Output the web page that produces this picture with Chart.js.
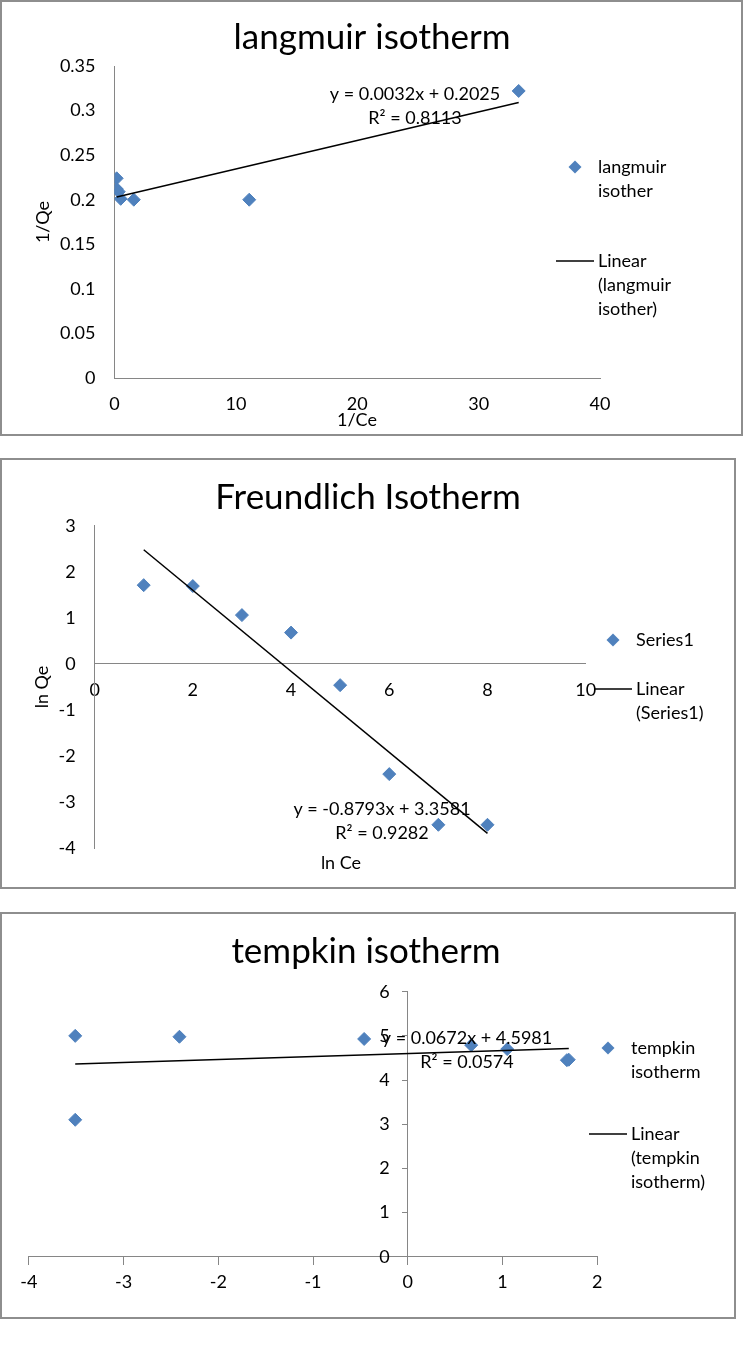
<!DOCTYPE html>
<html>
<head>
<meta charset="utf-8">
<title>Isotherms</title>
<script src="https://cdn.jsdelivr.net/npm/chart.js@4.4.1/dist/chart.umd.min.js"></script>
<style>
  body { margin: 0; background: #fff; width: 744px; height: 1370px; position: relative; }
  .box { position: absolute; border: 2px solid #8e8e8e; box-sizing: border-box; background: #fff; }
  .box canvas { position: absolute; left: 0; top: 0; }
</style>
</head>
<body>
<div class="box" style="left:0;top:0;width:743px;height:436px"><canvas id="langmuirChart" width="739" height="432"></canvas></div>
<div class="box" style="left:0;top:458px;width:736px;height:431px"><canvas id="freundlichChart" width="732" height="427"></canvas></div>
<div class="box" style="left:0;top:912px;width:736px;height:407px"><canvas id="tempkinChart" width="732" height="403"></canvas></div>
<script>
// langmuir: 1/Ce vs 1/Qe
const langmuirX = [0.18, 0.19, 0.35, 0.51, 1.59, 11.1, 33.3];
const langmuirY = [0.224, 0.212, 0.209, 0.201, 0.200, 0.200, 0.322];
const langmuirFit = [0.0032, 0.2025];
const langmuirR2 = '0.8113';
const langmuirXTicks = [0, 10, 20, 30, 40];
const langmuirYTicks = [0, 0.05, 0.1, 0.15, 0.2, 0.25, 0.3, 0.35];

// freundlich: ln Ce vs ln Qe
const freundlichX = [1, 2, 3, 4, 5, 6, 7, 8];
const freundlichY = [1.71, 1.69, 1.06, 0.68, -0.46, -2.39, -3.49, -3.49];
const freundlichFit = [-0.8793, 3.3581];
const freundlichR2 = '0.9282';
const freundlichXTicks = [0, 2, 4, 6, 8, 10];
const freundlichYTicks = [-4, -3, -2, -1, 0, 1, 2, 3];

// tempkin
const tempkinX = [-3.51, -3.51, -2.41, -0.46, 0.67, 1.05, 1.68, 1.70];
const tempkinY = [5.0, 3.1, 4.98, 4.93, 4.79, 4.70, 4.45, 4.46];
const tempkinFit = [0.0672, 4.5981];
const tempkinR2 = '0.0574';
const tempkinXTicks = [-4, -3, -2, -1, 0, 1, 2];
const tempkinYTicks = [0, 1, 2, 3, 4, 5, 6];

const FONT = 'Lato, "Open Sans", sans-serif';
const MARKER = '#4F81BD';
const AXIS = '#868686';
const tickFont = { family: FONT, size: 18 };

function points(xs, ys) {
    return xs.map((x, i) => ({ x: x, y: ys[i] }));
}

function trend(xs, fit) {
    const lo = Math.min(...xs), hi = Math.max(...xs);
    return [{ x: lo, y: fit[0] * lo + fit[1] }, { x: hi, y: fit[0] * hi + fit[1] }];
}

function eqText(fit) {
    const b = fit[1] < 0 ? ' - ' + Math.abs(fit[1]) : ' + ' + fit[1];
    return 'y = ' + fit[0] + 'x' + b;
}

// fixed axis box size, so the plot area comes out where the picture has it
function fixSize(n) {
    return s => {
        if (s.isHorizontal()) s.height = n; else s.width = n;
        s.paddingLeft = s.paddingRight = s.paddingTop = s.paddingBottom = 0;
    };
}

function setTicks(list) {
    return s => { s.ticks = list.map(v => ({ value: v })); };
}

// y axis placed at x = 0 gets its labels right on the line, push them left
function pushLabels(gap) {
    return s => {
        fixSize(0)(s);
        if (s._pushed) return;
        const orig = s._computeLabelItems;
        s._computeLabelItems = function (area) {
            const items = orig.call(this, area);
            items.forEach(it => { it.options.translation[0] -= gap; });
            return items;
        };
        s._pushed = true;
    };
}

function diamond(ctx, x, y, r) {
    ctx.beginPath();
    ctx.moveTo(x, y - r);
    ctx.lineTo(x + r, y);
    ctx.lineTo(x, y + r);
    ctx.lineTo(x - r, y);
    ctx.closePath();
    ctx.fill();
}

const decor = {
    id: 'decor',
    afterDraw(chart, args, o) {
        const ctx = chart.ctx;
        ctx.save();
        ctx.fillStyle = '#000';
        ctx.textBaseline = 'middle';
        ctx.textAlign = 'center';
        ctx.font = '35px ' + FONT;
        ctx.fillText(o.title, o.titlePos[0], o.titlePos[1]);

        ctx.font = '18px ' + FONT;
        if (o.xTitle) ctx.fillText(o.xTitle, o.xTitlePos[0], o.xTitlePos[1]);
        if (o.yTitle) {
            ctx.save();
            ctx.translate(o.yTitlePos[0], o.yTitlePos[1]);
            ctx.rotate(-Math.PI / 2);
            ctx.fillText(o.yTitle, 0, 0);
            ctx.restore();
        }
        o.eq.forEach((t, i) => ctx.fillText(t, o.eqPos[0], o.eqPos[1] + i * 24));

        const L = o.legend;
        ctx.textAlign = 'left';
        ctx.fillStyle = MARKER;
        diamond(ctx, L.x - 23, L.y, 6.5);
        ctx.fillStyle = '#000';
        L.series.forEach((t, i) => ctx.fillText(t, L.x, L.y + i * 24));
        ctx.strokeStyle = '#000';
        ctx.lineWidth = 1.5;
        ctx.beginPath();
        ctx.moveTo(L.x - 42, L.y2);
        ctx.lineTo(L.x - 4, L.y2);
        ctx.stroke();
        L.trend.forEach((t, i) => ctx.fillText(t, L.x, L.y2 + i * 24));
        ctx.restore();
    }
};

function datasets(xs, ys, fit) {
    return [{
        data: trend(xs, fit),
        showLine: true,
        borderColor: '#000',
        borderWidth: 1.5,
        pointRadius: 0,
        order: 0
    }, {
        data: points(xs, ys),
        pointStyle: 'rectRot',
        pointRadius: 6.5,
        pointHoverRadius: 6.5,
        backgroundColor: MARKER,
        borderColor: MARKER,
        borderWidth: 1,
        order: 1
    }];
}

function axis(min, max, ticks, size, extra) {
    const a = {
        type: 'linear',
        min: min,
        max: max,
        afterBuildTicks: setTicks(ticks),
        afterFit: fixSize(size),
        grid: { display: true, drawOnChartArea: false, drawTicks: false, color: AXIS },
        border: { display: true, color: AXIS, width: 1 },
        ticks: { font: tickFont, color: '#000', padding: 15, maxRotation: 0, autoSkip: false,
                 callback: v => String(v) }
    };
    return Object.assign(a, extra || {});
}

const common = {
    responsive: false,
    animation: false,
    events: [],
    plugins: { legend: { display: false }, tooltip: { enabled: false } }
};

new Chart(document.getElementById('langmuirChart'), {
    type: 'scatter',
    data: { datasets: datasets(langmuirX, langmuirY, langmuirFit) },
    plugins: [decor],
    options: Object.assign({}, common, {
        layout: { padding: { left: 0, right: 141, top: 64, bottom: 0 } },
        scales: {
            x: axis(0, 40, langmuirXTicks, 56),
            y: axis(0, 0.35, langmuirYTicks, 112.5, {
                ticks: { font: tickFont, color: '#000', padding: 19, autoSkip: false, callback: v => String(v) }
            })
        },
        plugins: Object.assign({}, common.plugins, {
            decor: {
                title: 'langmuir isotherm', titlePos: [370, 36],
                xTitle: '1/Ce', xTitlePos: [355, 418],
                yTitle: '1/Qe', yTitlePos: [41, 220],
                eq: [eqText(langmuirFit), 'R² = ' + langmuirR2], eqPos: [413, 92],
                legend: { x: 596, y: 165, series: ['langmuir', 'isother'],
                          y2: 259, trend: ['Linear', '(langmuir', 'isother)'] }
            }
        })
    })
});

new Chart(document.getElementById('freundlichChart'), {
    type: 'scatter',
    data: { datasets: datasets(freundlichX, freundlichY, freundlichFit) },
    plugins: [decor],
    options: Object.assign({}, common, {
        layout: { padding: { left: 0, right: 148.3, top: 65.7, bottom: 38.7 } },
        scales: {
            x: axis(0, 10, freundlichXTicks, 0, { position: { y: 0 } }),
            y: axis(-4, 3, freundlichYTicks, 92.6, {
                ticks: { font: tickFont, color: '#000', padding: 19, autoSkip: false, callback: v => String(v) }
            })
        },
        plugins: Object.assign({}, common.plugins, {
            decor: {
                title: 'Freundlich Isotherm', titlePos: [366, 38],
                xTitle: 'ln Ce', xTitlePos: [339, 403],
                yTitle: 'ln Qe', yTitlePos: [40, 227],
                eq: [eqText(freundlichFit), 'R² = ' + freundlichR2], eqPos: [380, 349],
                legend: { x: 634, y: 180, series: ['Series1'],
                          y2: 229, trend: ['Linear', '(Series1)'] }
            }
        })
    })
});

new Chart(document.getElementById('tempkinChart'), {
    type: 'scatter',
    data: { datasets: datasets(tempkinX, tempkinY, tempkinFit) },
    plugins: [decor],
    options: Object.assign({}, common, {
        layout: { padding: { left: 26.8, right: 136.8, top: 77.7, bottom: 60.3 } },
        scales: {
            x: axis(-4, 2, tempkinXTicks, 0, {
                position: { y: 0 },
                grid: { display: true, drawOnChartArea: false, drawTicks: true, tickLength: 8, color: AXIS },
                ticks: { font: tickFont, color: '#000', padding: 7, maxRotation: 0, autoSkip: false, callback: v => String(v) }
            }),
            y: axis(0, 6, tempkinYTicks, 0, {
                position: { x: 0 },
                afterFit: pushLabels(18),
                grid: { display: true, drawOnChartArea: false, drawTicks: true, tickLength: 5, color: AXIS },
                ticks: { font: tickFont, color: '#000', padding: 8, autoSkip: false, callback: v => String(v) }
            })
        },
        plugins: Object.assign({}, common.plugins, {
            decor: {
                title: 'tempkin isotherm', titlePos: [364, 38],
                eq: [eqText(tempkinFit), 'R² = ' + tempkinR2], eqPos: [465, 124],
                legend: { x: 629, y: 134, series: ['tempkin', 'isotherm'],
                          y2: 220, trend: ['Linear', '(tempkin', 'isotherm)'] }
            }
        })
    })
});
</script>
</body>
</html>
